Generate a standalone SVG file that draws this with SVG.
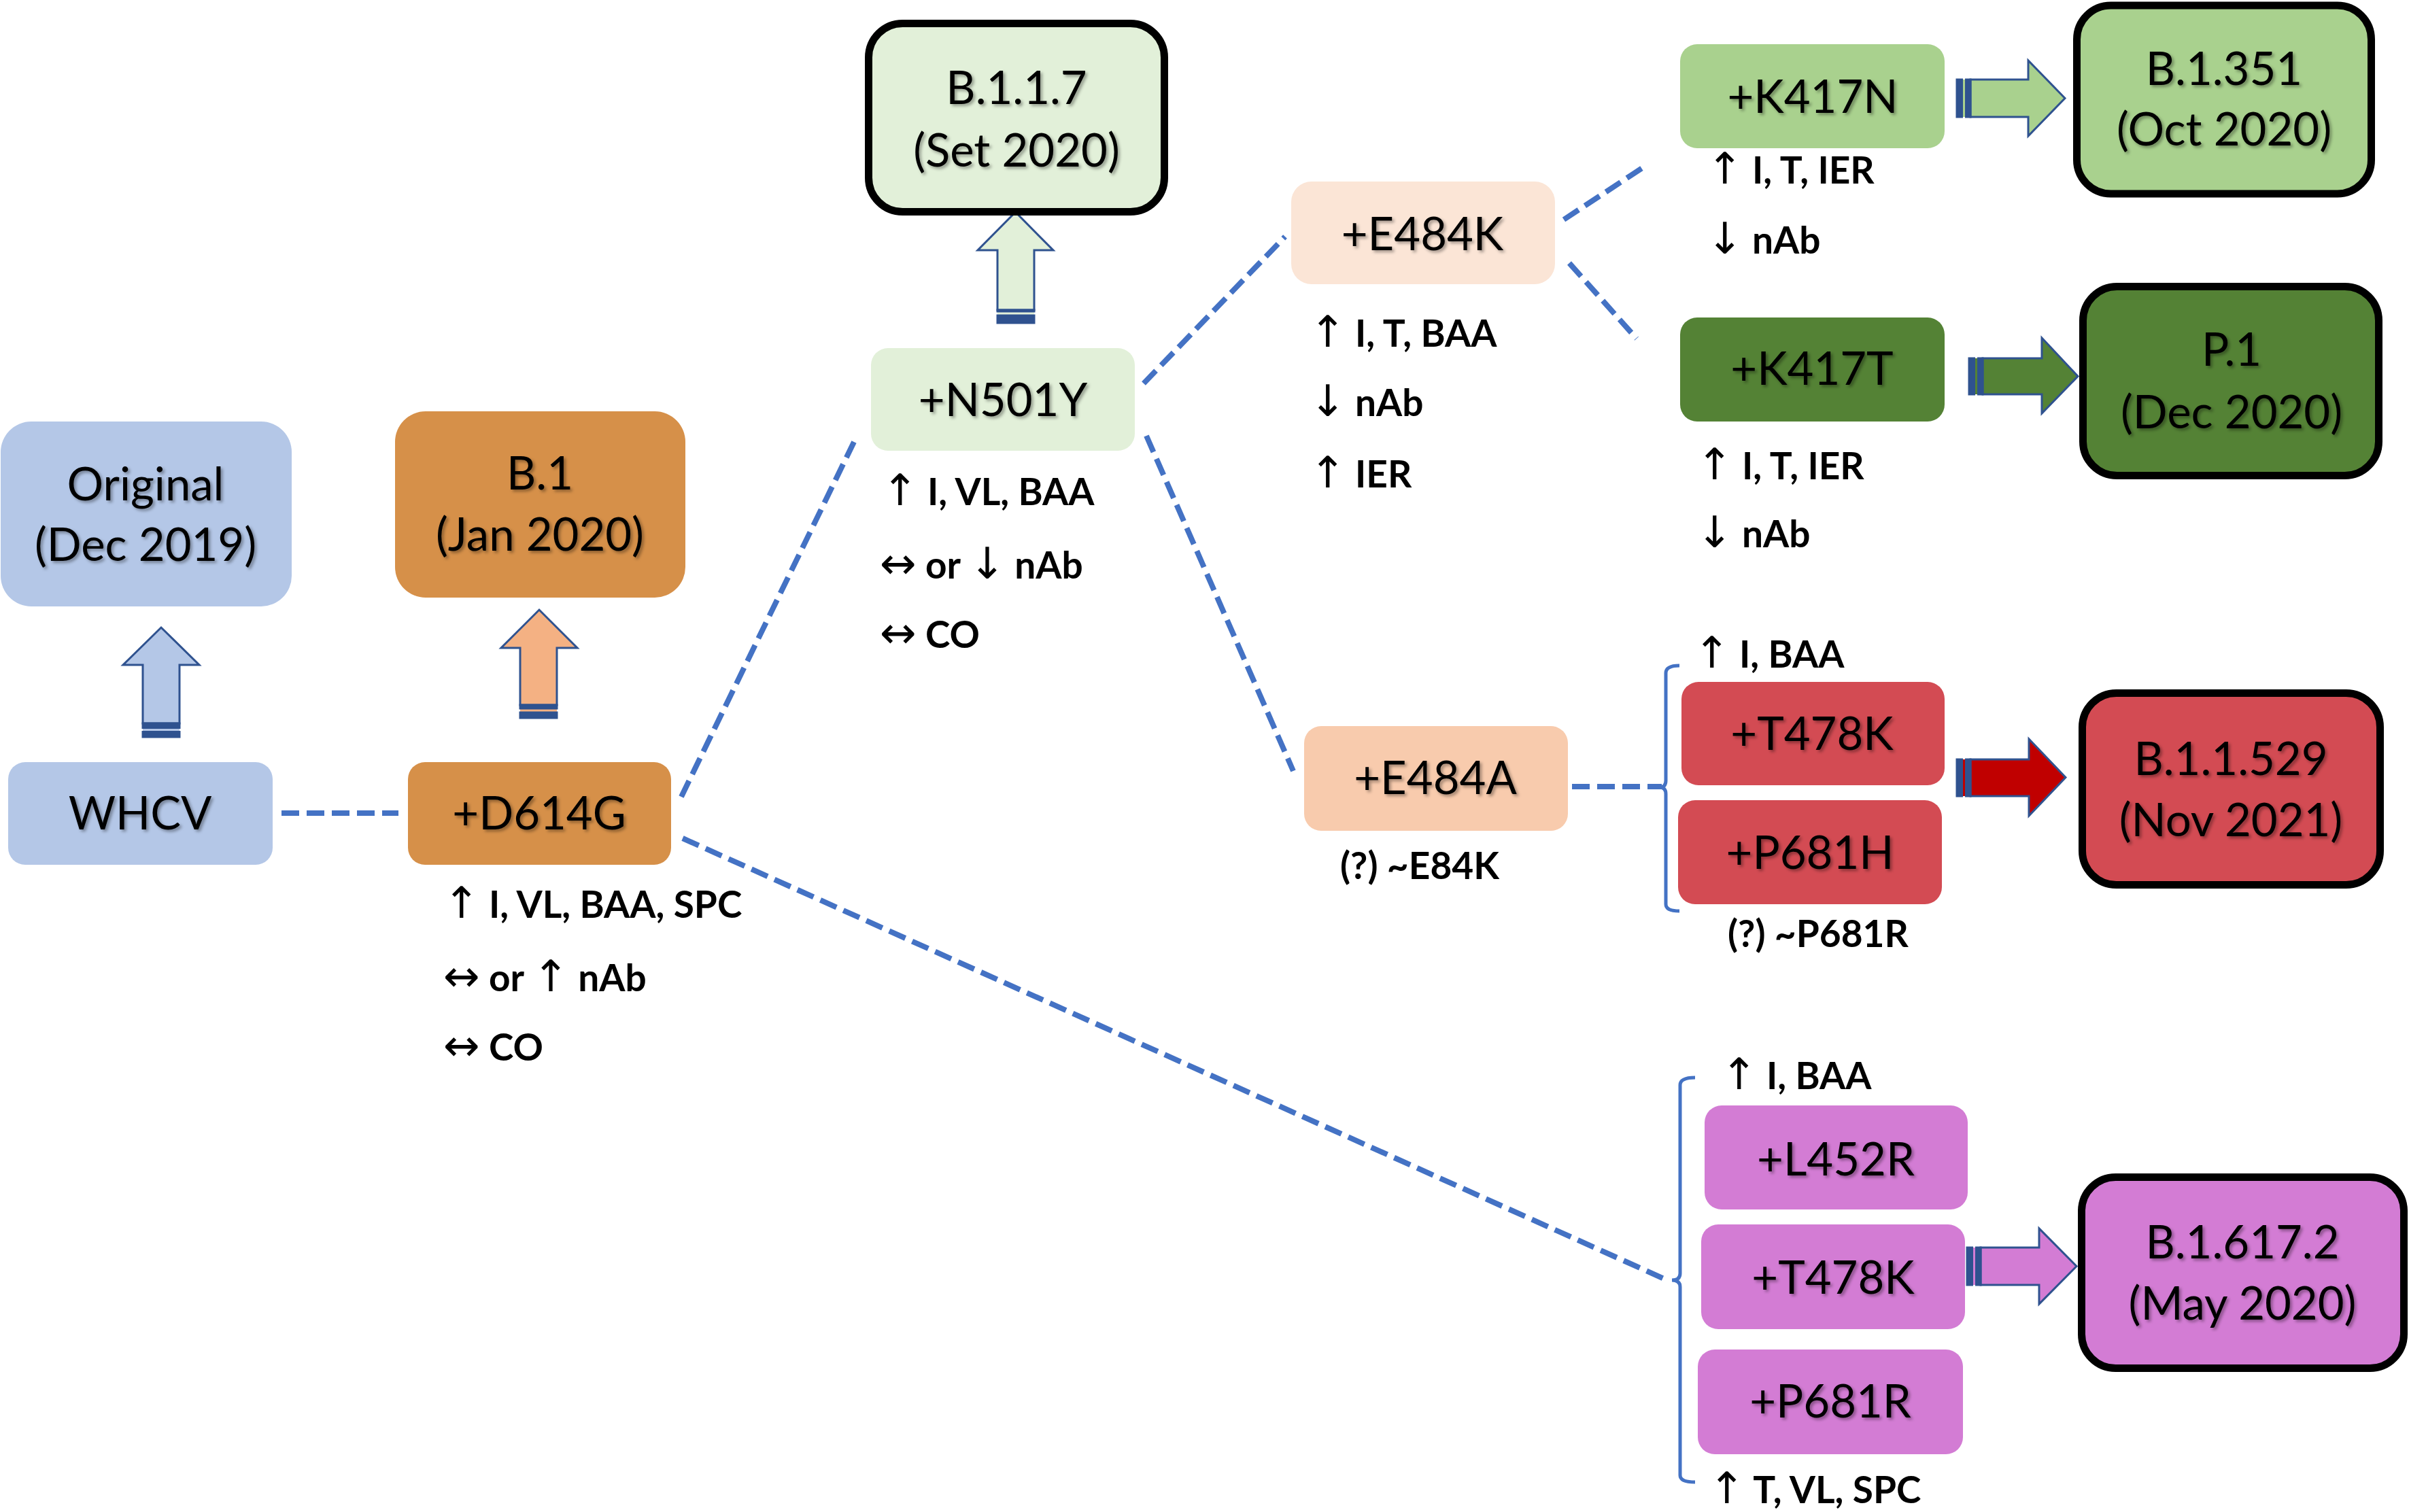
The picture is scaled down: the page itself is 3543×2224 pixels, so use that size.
<svg xmlns="http://www.w3.org/2000/svg" width="3543" height="2224" viewBox="0 0 3543 2224">
<defs>
<filter id="ts" x="-10%" y="-10%" width="130%" height="140%">
<feDropShadow dx="3" dy="3" stdDeviation="2" flood-color="#000" flood-opacity="0.35"/>
</filter>
</defs>
<style>
.lbl{font-family:Lato,"Liberation Sans",sans-serif;font-size:67px;fill:#000;text-anchor:middle;filter:url(#ts)}
.ann{font-family:Lato,"Liberation Sans",sans-serif;font-size:55px;font-weight:bold;fill:#000}
.ar{font-family:"DejaVu Sans",sans-serif;font-size:64px;font-weight:normal}
.dash{fill:none;stroke:#4472C4;stroke-width:8;stroke-dasharray:26 11}
.brace{fill:none;stroke:#4472C4;stroke-width:5}
.thick{stroke:#000;stroke-width:11}
.arr{stroke:#2F528F;stroke-width:3}
.stripe{fill:#2F528F}
</style>
<rect width="3543" height="2224" fill="#fff"/>

<g id="connectors">
<line class="dash" x1="414" y1="1196" x2="586" y2="1196"/>
<line class="dash" x1="1002" y1="1172" x2="1256" y2="650"/>
<line class="dash" x1="1004" y1="1233" x2="2452" y2="1883"/>
<line class="dash" x1="1682" y1="564" x2="1890" y2="348"/>
<line class="dash" x1="1686" y1="641" x2="1902" y2="1134"/>
<line class="dash" x1="2300" y1="323" x2="2423" y2="242"/>
<line class="dash" x1="2308" y1="387" x2="2407" y2="498"/>
<line class="dash" x1="2312" y1="1157" x2="2444" y2="1157"/>
<path class="brace" d="M2470,979 Q2450,979 2450,990 V1148 Q2450,1158 2441,1158 Q2450,1158 2450,1168 V1330 Q2450,1340 2470,1340"/>
<path class="brace" d="M2493,1585 Q2471,1585 2471,1596 V1873 Q2471,1883 2459,1883 Q2471,1883 2471,1893 V2170 Q2471,2180 2493,2180"/>
</g>

<g id="arrows">
<g id="arrow-original">
<path class="arr" fill="#B4C7E7" d="M210,1064 V978 H181 L237,923 L293,978 H264 V1064 Z"/>
<rect x="210" y="1064" width="54" height="20" fill="#B4C7E7"/>
<rect class="stripe" x="208.5" y="1062.5" width="57" height="9.5"/>
<rect class="stripe" x="208.5" y="1075" width="57" height="10.5"/>
</g>
<g id="arrow-b1">
<path class="arr" fill="#F4B183" d="M765,1037 V953 H737 L793,897 L849,953 H819 V1037 Z"/>
<rect x="765" y="1037" width="54" height="19" fill="#F4B183"/>
<rect class="stripe" x="763.5" y="1035.5" width="57" height="8"/>
<rect class="stripe" x="763.5" y="1046.5" width="57" height="11"/>
</g>
<g id="arrow-b117">
<path class="arr" fill="#E2F0D9" d="M1467,456 V368 H1438 L1493.5,312 L1549,368 H1521 V456 Z"/>
<rect x="1467" y="456" width="54" height="19" fill="#E2F0D9"/>
<rect class="stripe" x="1465.5" y="454.5" width="57" height="5"/>
<rect class="stripe" x="1465.5" y="462.5" width="57" height="14"/>
</g>
<g id="arrow-b1351">
<path class="arr" fill="#A9D18E" d="M2898,117 H2983 V89 L3037,144.5 L2983,200 V172 H2898 Z"/>
<rect x="2878" y="117" width="20" height="55" fill="#A9D18E"/>
<rect class="stripe" x="2876.5" y="115.5" width="10.5" height="58"/>
<rect class="stripe" x="2890" y="115.5" width="9.5" height="58"/>
</g>
<g id="arrow-p1">
<path class="arr" fill="#548235" d="M2916,527 H3003 V497 L3056,553.5 L3003,608 V580 H2916 Z"/>
<rect x="2896" y="527" width="20" height="53" fill="#548235"/>
<rect class="stripe" x="2894.5" y="525.5" width="10.5" height="56"/>
<rect class="stripe" x="2908" y="525.5" width="9.5" height="56"/>
</g>
<g id="arrow-b11529">
<path class="arr" fill="#C00000" d="M2898,1117 H2984 V1087 L3038,1143.5 L2984,1200 V1171 H2898 Z"/>
<rect x="2878" y="1117" width="20" height="54" fill="#C00000"/>
<rect class="stripe" x="2876.5" y="1115.5" width="10.5" height="57"/>
<rect class="stripe" x="2890" y="1115.5" width="9.5" height="57"/>
</g>
<g id="arrow-b16172">
<path class="arr" fill="#D37CD4" d="M2913,1835 H2999 V1807 L3054,1862.5 L2999,1918 V1890 H2913 Z"/>
<rect x="2893" y="1835" width="20" height="55" fill="#D37CD4"/>
<rect class="stripe" x="2891.5" y="1833.5" width="10.5" height="58"/>
<rect class="stripe" x="2905" y="1833.5" width="9.5" height="58"/>
</g>
</g>

<g id="node-original">
<rect x="1" y="620" width="428" height="272" rx="45" fill="#B4C7E7"/>
<text class="lbl" x="214" y="736">Original</text>
<text class="lbl" x="214" y="825">(Dec 2019)</text>
</g>
<g id="node-whcv">
<rect x="12" y="1121" width="389" height="151" rx="25" fill="#B4C7E7"/>
<text class="lbl" x="206" y="1220">WHCV</text>
</g>
<g id="node-b1">
<rect x="581" y="605" width="427" height="274" rx="45" fill="#D69049"/>
<text class="lbl" x="794" y="720">B.1</text>
<text class="lbl" x="794" y="810">(Jan 2020)</text>
</g>
<g id="node-d614g">
<rect x="600" y="1121" width="387" height="151" rx="25" fill="#D69049"/>
<text class="lbl" x="793" y="1220">+D614G</text>
<text class="ann" x="652" y="1350"><tspan class="ar">↑</tspan> I, VL, BAA, SPC</text>
<text class="ann" x="652" y="1458"><tspan class="ar">↔</tspan> or <tspan class="ar">↑</tspan> nAb</text>
<text class="ann" x="652" y="1560"><tspan class="ar">↔</tspan> CO</text>
</g>
<g id="node-b117">
<rect class="thick" x="1277.5" y="34.5" width="435" height="277" rx="50" fill="#E2F0D9"/>
<text class="lbl" x="1495" y="153">B.1.1.7</text>
<text class="lbl" x="1495" y="245">(Set 2020)</text>
</g>
<g id="node-n501y">
<rect x="1281" y="512" width="388" height="151" rx="25" fill="#E2F0D9"/>
<text class="lbl" x="1475" y="612">+N501Y</text>
<text class="ann" x="1297" y="743"><tspan class="ar">↑</tspan> I, VL, BAA</text>
<text class="ann" x="1294" y="851"><tspan class="ar">↔</tspan> or <tspan class="ar">↓</tspan> nAb</text>
<text class="ann" x="1294" y="953"><tspan class="ar">↔</tspan> CO</text>
</g>
<g id="node-e484k">
<rect x="1899" y="267" width="388" height="151" rx="30" fill="#FBE5D6"/>
<text class="lbl" x="2092" y="368">+E484K</text>
<text class="ann" x="1926" y="510"><tspan class="ar">↑</tspan> I, T, BAA</text>
<text class="ann" x="1926" y="612"><tspan class="ar">↓</tspan> nAb</text>
<text class="ann" x="1926" y="717"><tspan class="ar">↑</tspan> IER</text>
</g>
<g id="node-k417n">
<rect x="2471" y="65" width="389" height="153" rx="25" fill="#A9D18E"/>
<text class="lbl" x="2666" y="166">+K417N</text>
<text class="ann" x="2510" y="270"><tspan class="ar">↑</tspan> I, T, IER</text>
<text class="ann" x="2510" y="373"><tspan class="ar">↓</tspan> nAb</text>
</g>
<g id="node-b1351">
<rect class="thick" x="3054.5" y="8" width="433" height="277" rx="50" fill="#A9D18E"/>
<text class="lbl" x="3271" y="125">B.1.351</text>
<text class="lbl" x="3271" y="214">(Oct 2020)</text>
</g>
<g id="node-k417t">
<rect x="2471" y="467" width="389" height="153" rx="25" fill="#548235"/>
<text class="lbl" x="2665" y="566">+K417T</text>
<text class="ann" x="2495" y="705"><tspan class="ar">↑</tspan> I, T, IER</text>
<text class="ann" x="2495" y="805"><tspan class="ar">↓</tspan> nAb</text>
</g>
<g id="node-p1">
<rect class="thick" x="3063.5" y="421.5" width="435" height="278" rx="50" fill="#548235"/>
<text class="lbl" x="3282" y="538">P.1</text>
<text class="lbl" x="3282" y="630">(Dec 2020)</text>
</g>
<g id="node-e484a">
<rect x="1918" y="1068" width="388" height="154" rx="25" fill="#F8CBAD"/>
<text class="lbl" x="2111" y="1168">+E484A</text>
<text class="ann" x="1971" y="1293">(?) ~E84K</text>
</g>
<g id="node-omicron-muts">
<text class="ann" x="2491" y="982"><tspan class="ar">↑</tspan> I, BAA</text>
<rect x="2473" y="1003" width="387" height="152" rx="25" fill="#D34B53"/>
<text class="lbl" x="2665" y="1103">+T478K</text>
<rect x="2468" y="1177" width="388" height="153" rx="25" fill="#D34B53"/>
<text class="lbl" x="2662" y="1278">+P681H</text>
<text class="ann" x="2541" y="1393">(?) ~P681R</text>
</g>
<g id="node-b11529">
<rect class="thick" x="3062.5" y="1019.5" width="438" height="282" rx="50" fill="#D34B53"/>
<text class="lbl" x="3281" y="1140">B.1.1.529</text>
<text class="lbl" x="3281" y="1230">(Nov 2021)</text>
</g>
<g id="node-delta-muts">
<text class="ann" x="2531" y="1602"><tspan class="ar">↑</tspan> I, BAA</text>
<rect x="2507" y="1626" width="387" height="153" rx="25" fill="#D37CD4"/>
<text class="lbl" x="2700" y="1729">+L452R</text>
<rect x="2502" y="1801" width="388" height="154" rx="25" fill="#D37CD4"/>
<text class="lbl" x="2696" y="1903">+T478K</text>
<rect x="2497" y="1985" width="390" height="154" rx="25" fill="#D37CD4"/>
<text class="lbl" x="2692" y="2085">+P681R</text>
<text class="ann" x="2513" y="2211"><tspan class="ar">↑</tspan> T, VL, SPC</text>
</g>
<g id="node-b16172">
<rect class="thick" x="3061.5" y="1731.5" width="474" height="281" rx="50" fill="#D37CD4"/>
<text class="lbl" x="3298" y="1851">B.1.617.2</text>
<text class="lbl" x="3298" y="1941">(May 2020)</text>
</g>
</svg>
